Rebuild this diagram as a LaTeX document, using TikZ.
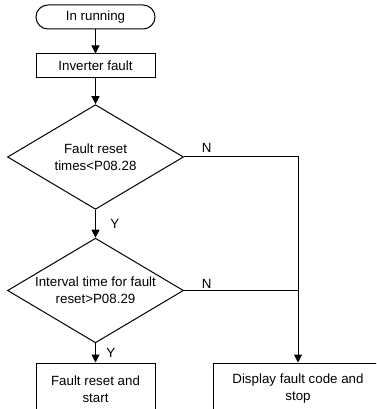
\documentclass[tikz,border=0pt]{standalone}
\usepackage{fontspec}
\setmainfont{Liberation Sans}
\usetikzlibrary{positioning,shapes.geometric,arrows.meta}

\begin{document}
\begin{tikzpicture}[
        x=0.75pt, y=-0.75pt,
        line width=0.75pt,
        >={Triangle[length=6pt,width=6pt]},
        every node/.style={font=\fontsize{10pt}{12.75pt}\selectfont},
        term/.style={draw, rounded corners=9pt, align=center,
                     minimum width=89.25pt, minimum height=18pt},
        proc/.style={draw, align=center, inner sep=0pt,
                     minimum width=89.25pt, minimum height=18pt},
        cond/.style={draw, diamond, aspect=1.68, align=center, inner sep=0pt,
                     minimum width=132pt, minimum height=78.5pt}
      ]
        \useasboundingbox (0,0) rectangle (376,409);
        \clip (0,0) rectangle (376,409);
        \node[term] (run) at (95.5,17) {In running};
        \node[proc] (fault) at (95.5,66) {Inverter fault};
        \node[cond] (times) at (95.5,157) {Fault reset\\times<P08.28};
        \node[cond] (interval) at (95.5,290.5) {Interval time for fault\\reset>P08.29};
        \node[proc, minimum height=39pt] (reset) at (95.5,389) {Fault reset and\\start};
        \node[proc, minimum height=39pt, minimum width=127.5pt] (disp) at (298,389) {Display fault code and\\stop};
        \coordinate (join) at (disp.north |- interval.east);
        \draw[->] (run) -- (fault);
        \draw[->] (fault) -- (times);
        \draw[->] (times) -- node[right=7.5pt] {Y} (interval);
        \draw[->] (interval) -- node[right=4.5pt] {Y} (reset);
        \draw[->] (times.east) -| node[pos=0.1, above] {N} (disp.north);
        \draw (interval.east) -- node[pos=0.2, above, inner sep=1pt] {N} (join);
      \end{tikzpicture}
\end{document}
